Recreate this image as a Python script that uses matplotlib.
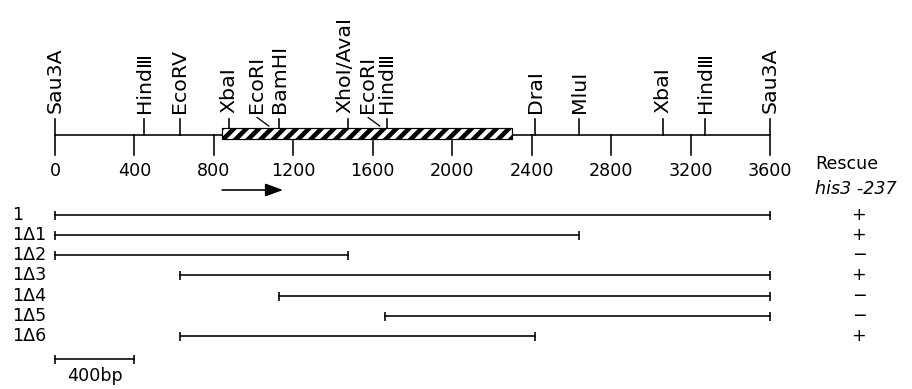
import matplotlib
matplotlib.use("Agg")
import matplotlib.pyplot as plt
from matplotlib.patches import Rectangle

DPI = 75
def pt(v):
    """pixels -> points at the chosen dpi"""
    return v * 72.0 / DPI

# ---------------- data ----------------
site_names = ["Sau3A", "Hind\u2162", "EcoRV", "Xba\u2160", "EcoR\u2160", "BamH\u2160",
              "Xho\u2160/Ava\u2160", "EcoR\u2160", "Hind\u2162", "Dra\u2160", "Mlu\u2160",
              "Xba\u2160", "Hind\u2162", "Sau3A"]
site_pos = [0, 450, 629, 877, 1088, 1128, 1474, 1647, 1670, 2417, 2640, 3061, 3273, 3600]
site_label_shift = [0, 0, 0, 0, -75, 0, -15, -75, 0, 0, 0, 0, 0, 0]

scale_ticks = [0, 400, 800, 1200, 1600, 2000, 2400, 2800, 3200, 3600]

gene_start = 841
gene_end = 2301
orf_arrow = (841, 1148)

row_labels = ["1", "1\u03941", "1\u03942", "1\u03943", "1\u03944", "1\u03945", "1\u03946"]
row_start = [0, 0, 0, 629, 1128, 1660, 629]
row_end = [3600, 2640, 1474, 3600, 3600, 3600, 2417]
rescue = ["+", "+", "\u2212", "+", "\u2212", "\u2212", "+"]

scalebar_bp = 400

# ---------------- figure ----------------
plt.rcParams['font.family'] = ['DejaVu Sans']
plt.rcParams['hatch.linewidth'] = pt(4.6)
plt.rcParams['hatch.color'] = 'black'

W, H = 912, 389
fig = plt.figure(figsize=(W / DPI, H / DPI), dpi=DPI)
ax = fig.add_axes([0, 0, 1, 1])
ppb = 715.0 / 3600.0          # pixels per bp
x0 = 55.0                      # pixel of bp 0
ax.set_xlim(-x0 / ppb, (W - x0) / ppb)
ax.set_ylim(H, 0)
ax.axis('off')

def bx(pix):
    """pixel column -> bp coordinate (for placing text)"""
    return (pix - x0) / ppb

lw = pt(1.6)
fs_site = pt(20.5)
fs_tick = pt(17.5)
fs_row = pt(17.5)

axis_y = 135
bar_top, bar_bot = 128, 139

# backbone
ax.plot([scale_ticks[0], scale_ticks[-1]], [axis_y, axis_y], color='black', lw=lw, solid_capstyle='butt')
# gene bar (hatched)
ax.add_patch(Rectangle((gene_start, bar_top), gene_end - gene_start, bar_bot - bar_top,
                       facecolor='white', edgecolor='black', hatch='//', lw=pt(1.2), zorder=3))

# scale ticks and labels
for t in scale_ticks:
    top = bar_bot + 2 if gene_start <= t <= gene_end else axis_y
    ax.plot([t, t], [top, 155], color='black', lw=lw)
    ax.text(t, 162, str(t), ha='center', va='top', fontsize=fs_tick)

# restriction sites
for name, p, sh in zip(site_names, site_pos, site_label_shift):
    inside = gene_start <= p <= gene_end
    bottom = bar_top if inside else axis_y
    lx = p + sh
    if sh < -30:
        ax.plot([lx + 5, p - 12], [117.5, bottom - 2], color='black', lw=pt(1.3))
    else:
        ax.plot([p, p], [119, bottom], color='black', lw=lw)
    ax.text(lx, 113, name, rotation=90, ha='center', va='bottom', fontsize=fs_site)

# orf arrow
ax.annotate("", xy=(orf_arrow[1], 190), xytext=(orf_arrow[0], 190),
            arrowprops=dict(arrowstyle='-|>,head_length=1.5,head_width=0.55',
                            color='black', lw=lw, shrinkA=0, shrinkB=0,
                            mutation_scale=pt(10)))

# rescue header
ax.text(bx(815), 164, "Rescue", ha='left', va='center', fontsize=fs_tick)
ax.text(bx(815), 189, "his3 -237", ha='left', va='center', fontsize=fs_tick, style='italic')

# deletion rows
row_y0, row_dy = 214.5, 20.3
for i, (lab, s, e, r) in enumerate(zip(row_labels, row_start, row_end, rescue)):
    y = row_y0 + i * row_dy
    ax.plot([s, e], [y, y], color='black', lw=lw, marker='|', markersize=pt(9),
            markeredgewidth=lw)
    ax.text(bx(12), y, lab, ha='left', va='center', fontsize=fs_row)
    ax.text(bx(859), y, r, ha='center', va='center', fontsize=fs_tick)

# scale bar
ax.plot([0, scalebar_bp], [359, 359], color='black', lw=lw, marker='|', markersize=pt(9),
        markeredgewidth=lw)
ax.text(scalebar_bp / 2, 376, f"{scalebar_bp}bp", ha='center', va='center', fontsize=fs_tick)

fig.savefig("out.png", dpi=DPI, facecolor='white')
